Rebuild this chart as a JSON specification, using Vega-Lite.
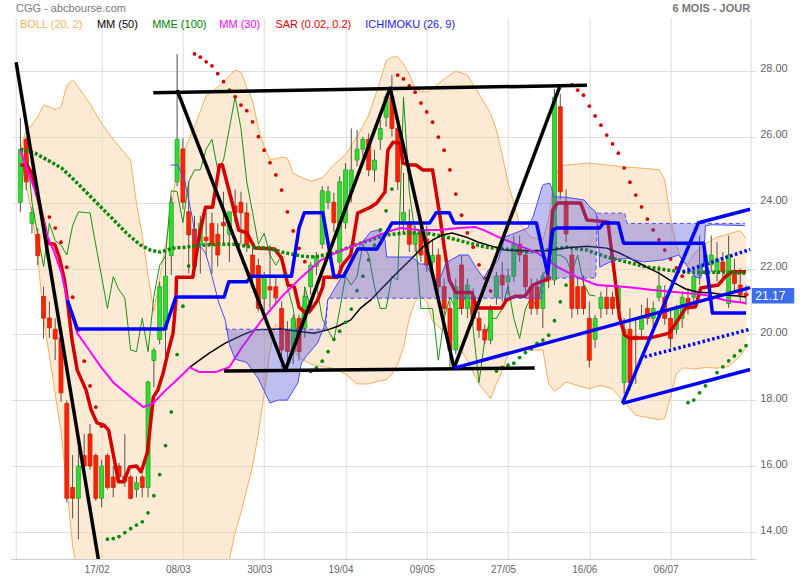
{
"$schema":"https://vega.github.io/schema/vega-lite/v6.json",
"width":745,"height":541,"autosize":"none",
"padding":{"left":10.7,"top":18,"right":44.3,"bottom":21},
"background":"#ffffff",
"config":{"view":{"stroke":null},"font":"Liberation Sans","axis":{"title":null}},
"datasets":{
"candles":[
{"i":0,"o":24.01,"h":26.58,"l":23.72,"c":25.61},{"i":1,"o":25.92,"h":26.0,"l":24.38,"c":24.63},{"i":2,"o":23.37,"h":23.87,"l":23.07,"c":23.7},{"i":3,"o":23.04,"h":23.22,"l":22.11,"c":22.39},{"i":4,"o":21.15,"h":21.45,"l":19.88,"c":20.49},{"i":5,"o":20.5,"h":21.0,"l":19.9,"c":20.2},{"i":6,"o":20.16,"h":20.49,"l":19.22,"c":19.86},{"i":7,"o":19.9,"h":20.0,"l":17.96,"c":18.23},{"i":8,"o":17.91,"h":18.0,"l":14.9,"c":15.03},{"i":9,"o":15.36,"h":16.34,"l":14.42,"c":15.03},
{"i":10,"o":15.03,"h":16.98,"l":13.79,"c":16.01},{"i":11,"o":16.33,"h":16.98,"l":15.9,"c":16.01},{"i":12,"o":16.98,"h":17.28,"l":15.9,"c":16.01},{"i":13,"o":16.33,"h":16.4,"l":14.95,"c":15.03},{"i":14,"o":15.03,"h":16.2,"l":14.76,"c":16.01},{"i":15,"o":16.33,"h":16.4,"l":15.3,"c":15.36},{"i":16,"o":15.68,"h":16.01,"l":15.06,"c":15.36},{"i":17,"o":16.01,"h":16.1,"l":15.5,"c":15.69},{"i":18,"o":15.7,"h":16.98,"l":15.38,"c":15.55},{"i":19,"o":15.68,"h":15.75,"l":15.0,"c":15.03},
{"i":20,"o":15.3,"h":15.7,"l":15.06,"c":15.5},{"i":21,"o":15.68,"h":15.75,"l":15.06,"c":15.36},{"i":22,"o":15.36,"h":18.6,"l":15.06,"c":18.56},{"i":23,"o":19.21,"h":19.6,"l":18.4,"c":19.52},{"i":24,"o":19.85,"h":21.6,"l":19.7,"c":21.45},{"i":25,"o":20.14,"h":22.46,"l":19.2,"c":21.77},{"i":26,"o":22.39,"h":24.18,"l":21.8,"c":24.01},{"i":27,"o":24.63,"h":28.51,"l":24.5,"c":25.92},{"i":28,"o":25.63,"h":25.95,"l":23.8,"c":24.01},{"i":29,"o":23.72,"h":24.63,"l":21.85,"c":23.02},
{"i":30,"o":23.2,"h":23.6,"l":21.9,"c":22.06},{"i":31,"o":22.71,"h":23.6,"l":21.85,"c":23.37},{"i":32,"o":22.95,"h":23.7,"l":22.4,"c":22.85},{"i":33,"o":23.37,"h":23.7,"l":21.85,"c":22.71},{"i":34,"o":23.04,"h":23.37,"l":22.06,"c":22.41},{"i":35,"o":23.4,"h":24.33,"l":22.76,"c":23.3},{"i":36,"o":23.04,"h":23.4,"l":22.2,"c":23.72},{"i":37,"o":23.9,"h":24.4,"l":23.4,"c":23.7},{"i":38,"o":24.01,"h":24.33,"l":22.76,"c":23.69},{"i":39,"o":23.69,"h":24.0,"l":22.5,"c":22.71},
{"i":40,"o":22.41,"h":22.8,"l":21.5,"c":21.75},{"i":41,"o":22.09,"h":22.3,"l":20.7,"c":20.79},{"i":42,"o":21.09,"h":21.9,"l":20.7,"c":21.75},{"i":43,"o":21.45,"h":22.71,"l":20.79,"c":21.35},{"i":44,"o":21.45,"h":21.75,"l":20.9,"c":21.11},{"i":45,"o":20.79,"h":21.0,"l":19.0,"c":19.53},{"i":46,"o":20.14,"h":20.4,"l":19.17,"c":19.48},{"i":47,"o":19.48,"h":20.6,"l":19.1,"c":20.49},{"i":48,"o":20.49,"h":20.6,"l":19.2,"c":19.48},{"i":49,"o":20.19,"h":21.3,"l":19.9,"c":21.15},
{"i":50,"o":21.45,"h":22.2,"l":21.2,"c":22.1},{"i":51,"o":22.06,"h":22.5,"l":21.8,"c":22.38},{"i":52,"o":22.74,"h":24.5,"l":22.6,"c":24.36},{"i":53,"o":24.01,"h":24.5,"l":23.8,"c":24.33},{"i":54,"o":24.01,"h":24.3,"l":23.1,"c":23.39},{"i":55,"o":22.2,"h":24.8,"l":22.0,"c":24.63},{"i":56,"o":23.39,"h":25.2,"l":23.2,"c":24.99},{"i":57,"o":24.33,"h":26.25,"l":24.0,"c":24.99},{"i":58,"o":25.29,"h":26.2,"l":25.1,"c":25.62},{"i":59,"o":25.62,"h":26.0,"l":25.4,"c":25.92},
{"i":60,"o":25.92,"h":26.1,"l":24.8,"c":24.99},{"i":61,"o":24.99,"h":25.6,"l":24.63,"c":25.29},{"i":62,"o":25.92,"h":26.5,"l":25.6,"c":26.25},{"i":63,"o":26.59,"h":27.3,"l":26.3,"c":27.21},{"i":64,"o":27.21,"h":27.87,"l":26.0,"c":26.25},{"i":65,"o":26.25,"h":26.4,"l":24.38,"c":24.63},{"i":66,"o":23.39,"h":24.9,"l":23.1,"c":23.7},{"i":67,"o":23.39,"h":23.8,"l":22.5,"c":22.74},{"i":68,"o":22.74,"h":23.3,"l":22.5,"c":23.07},{"i":69,"o":23.12,"h":23.3,"l":22.2,"c":22.41},
{"i":70,"o":22.9,"h":23.3,"l":21.9,"c":22.1},{"i":71,"o":22.2,"h":22.9,"l":21.8,"c":22.4},{"i":72,"o":22.41,"h":22.6,"l":21.3,"c":21.45},{"i":73,"o":21.45,"h":21.7,"l":20.6,"c":20.79},{"i":74,"o":20.79,"h":21.0,"l":19.02,"c":19.53},{"i":75,"o":19.53,"h":21.7,"l":19.4,"c":21.45},{"i":76,"o":22.11,"h":22.4,"l":20.6,"c":20.79},{"i":77,"o":20.79,"h":21.7,"l":20.5,"c":21.5},{"i":78,"o":21.15,"h":21.4,"l":20.3,"c":20.49},{"i":79,"o":20.49,"h":20.7,"l":19.9,"c":20.13},
{"i":80,"o":20.15,"h":20.3,"l":19.7,"c":19.83},{"i":81,"o":19.83,"h":20.9,"l":19.7,"c":20.74},{"i":82,"o":21.13,"h":21.9,"l":20.9,"c":21.77},{"i":83,"o":21.8,"h":22.2,"l":21.0,"c":21.5},{"i":84,"o":21.6,"h":22.0,"l":21.2,"c":21.77},{"i":85,"o":21.77,"h":23.0,"l":21.6,"c":22.74},{"i":86,"o":22.74,"h":23.0,"l":22.2,"c":22.41},{"i":87,"o":22.41,"h":22.6,"l":21.3,"c":21.45},{"i":88,"o":21.45,"h":21.7,"l":20.6,"c":20.79},{"i":89,"o":21.45,"h":21.7,"l":20.6,"c":20.79},
{"i":90,"o":20.79,"h":21.9,"l":20.2,"c":21.77},{"i":91,"o":21.77,"h":21.9,"l":21.4,"c":21.65},{"i":92,"o":21.65,"h":27.45,"l":21.5,"c":27.2},{"i":93,"o":26.91,"h":27.3,"l":24.1,"c":24.33},{"i":94,"o":24.03,"h":24.4,"l":22.8,"c":23.05},{"i":95,"o":22.41,"h":22.6,"l":20.5,"c":20.79},{"i":96,"o":21.45,"h":21.7,"l":20.6,"c":20.79},{"i":97,"o":21.45,"h":21.8,"l":20.6,"c":20.79},{"i":98,"o":20.49,"h":21.0,"l":19.0,"c":19.22},{"i":99,"o":19.85,"h":20.6,"l":19.6,"c":20.49},
{"i":100,"o":20.79,"h":21.3,"l":20.5,"c":21.13},{"i":101,"o":21.13,"h":21.5,"l":20.6,"c":20.79},{"i":102,"o":21.13,"h":21.3,"l":20.6,"c":20.79},{"i":103,"o":20.79,"h":21.5,"l":20.5,"c":21.4},{"i":104,"o":18.54,"h":20.5,"l":18.2,"c":20.16},{"i":105,"o":20.16,"h":20.8,"l":18.3,"c":18.54},{"i":106,"o":19.95,"h":20.5,"l":18.5,"c":19.85},{"i":107,"o":20.16,"h":20.9,"l":19.9,"c":20.49},{"i":108,"o":20.79,"h":21.1,"l":20.3,"c":20.49},{"i":109,"o":20.49,"h":21.0,"l":20.2,"c":20.79},
{"i":110,"o":21.13,"h":22.1,"l":21.0,"c":21.47},{"i":111,"o":21.13,"h":21.5,"l":20.3,"c":20.49},{"i":112,"o":20.49,"h":20.8,"l":19.6,"c":19.88},{"i":113,"o":20.16,"h":20.9,"l":20.0,"c":20.79},{"i":114,"o":20.49,"h":21.3,"l":20.2,"c":21.13},{"i":115,"o":21.1,"h":21.4,"l":20.6,"c":20.8},{"i":116,"o":21.13,"h":22.0,"l":20.9,"c":21.77},{"i":117,"o":21.8,"h":23.0,"l":21.5,"c":22.1},{"i":118,"o":22.11,"h":22.6,"l":21.8,"c":22.41},{"i":119,"o":22.11,"h":23.0,"l":21.9,"c":22.41},
{"i":120,"o":21.9,"h":22.8,"l":21.6,"c":22.3},{"i":121,"o":22.2,"h":22.5,"l":21.7,"c":21.9},{"i":122,"o":20.94,"h":23.0,"l":20.8,"c":22.41},{"i":123,"o":21.9,"h":22.3,"l":21.3,"c":21.55},{"i":124,"o":21.5,"h":22.0,"l":21.0,"c":21.2},{"i":125,"o":21.25,"h":21.5,"l":20.9,"c":21.17}
],
"chikou":[
{"i":0,"v":24.01},{"i":1,"v":25.92},{"i":2,"v":24.01},{"i":3,"v":23.02},{"i":4,"v":22.06},{"i":5,"v":23.37},{"i":6,"v":22.85},{"i":7,"v":22.71},{"i":8,"v":22.41},{"i":9,"v":23.3},{"i":10,"v":23.72},{"i":11,"v":23.7},{"i":12,"v":23.69},{"i":13,"v":22.71},{"i":14,"v":21.75},{"i":15,"v":20.79},{"i":16,"v":21.75},{"i":17,"v":21.35},{"i":18,"v":21.11},{"i":19,"v":19.53},{"i":20,"v":19.48},{"i":21,"v":20.49},{"i":22,"v":19.48},{"i":23,"v":21.15},{"i":24,"v":22.1},{"i":25,"v":22.38},{"i":26,"v":24.36},{"i":27,"v":24.33},{"i":28,"v":23.39},{"i":29,"v":24.63},{"i":30,"v":24.99},{"i":31,"v":24.99},{"i":32,"v":25.62},{"i":33,"v":25.92},{"i":34,"v":24.99},{"i":35,"v":25.29},{"i":36,"v":26.25},{"i":37,"v":27.21},{"i":38,"v":26.25},{"i":39,"v":24.63},{"i":40,"v":23.7},{"i":41,"v":22.74},{"i":42,"v":23.07},{"i":43,"v":22.41},{"i":44,"v":22.1},{"i":45,"v":22.4},{"i":46,"v":21.45},{"i":47,"v":20.79},{"i":48,"v":19.53},{"i":49,"v":21.45},{"i":50,"v":20.79},{"i":51,"v":21.5},{"i":52,"v":20.49},{"i":53,"v":20.13},{"i":54,"v":19.83},{"i":55,"v":20.74},{"i":56,"v":21.77},{"i":57,"v":21.5},{"i":58,"v":21.77},{"i":59,"v":22.74},{"i":60,"v":22.41},{"i":61,"v":21.45},{"i":62,"v":20.79},{"i":63,"v":20.79},{"i":64,"v":21.77},{"i":65,"v":21.65},{"i":66,"v":27.2},{"i":67,"v":24.33},{"i":68,"v":23.05},{"i":69,"v":20.79},{"i":70,"v":20.79},{"i":71,"v":20.79},{"i":72,"v":19.22},{"i":73,"v":20.49},{"i":74,"v":21.13},{"i":75,"v":20.79},{"i":76,"v":20.79},{"i":77,"v":21.4},{"i":78,"v":20.16},{"i":79,"v":18.54},{"i":80,"v":19.85},{"i":81,"v":20.49},{"i":82,"v":20.49},{"i":83,"v":20.79},{"i":84,"v":21.47},{"i":85,"v":20.49},{"i":86,"v":19.88},{"i":87,"v":20.79},{"i":88,"v":21.13},{"i":89,"v":20.8},{"i":90,"v":21.77},{"i":91,"v":22.1},{"i":92,"v":22.41},{"i":93,"v":22.41},{"i":94,"v":22.3},{"i":95,"v":21.9},{"i":96,"v":22.41},{"i":97,"v":21.55},{"i":98,"v":21.2},{"i":99,"v":21.17}
],
"boll":[
{"i":0,"up":25.6,"lo":25.6},{"i":1,"up":26.2,"lo":24.5},{"i":2,"up":26.35,"lo":23.68},{"i":3,"up":26.6,"lo":22.35},{"i":4,"up":26.95,"lo":20.5},{"i":5,"up":26.9,"lo":19.35},{"i":6,"up":26.82,"lo":18.2},{"i":7,"up":26.9,"lo":17.05},{"i":8,"up":27.55,"lo":15.4},{"i":9,"up":27.72,"lo":13.6},{"i":10,"up":27.5,"lo":12.6},{"i":12,"up":27.0,"lo":12.0},{"i":14,"up":26.4,"lo":11.8},{"i":16,"up":25.92,"lo":11.8},{"i":18,"up":25.5,"lo":11.9},{"i":19,"up":25.29,"lo":11.95},{"i":20,"up":23.99,"lo":12.0},{"i":21,"up":23.0,"lo":12.1},{"i":22,"up":21.8,"lo":12.2},{"i":23,"up":20.7,"lo":12.3},{"i":24,"up":21.7,"lo":12.4},{"i":25,"up":22.7,"lo":12.4},{"i":26,"up":23.8,"lo":12.3},{"i":27,"up":25.1,"lo":12.1},{"i":28,"up":25.5,"lo":12.0},{"i":30,"up":26.3,"lo":11.8},{"i":32,"up":27.25,"lo":11.9},{"i":34,"up":27.5,"lo":12.5},{"i":36,"up":27.85,"lo":13.19},{"i":37,"up":28.02,"lo":13.98},{"i":38,"up":27.95,"lo":14.6},{"i":39,"up":27.5,"lo":15.3},{"i":40,"up":27.1,"lo":16.0},{"i":41,"up":26.25,"lo":17.0},{"i":42,"up":25.7,"lo":18.2},{"i":43,"up":25.3,"lo":19.5},{"i":44,"up":25.33,"lo":20.3},{"i":45,"up":25.38,"lo":20.1},{"i":46,"up":25.35,"lo":19.9},{"i":47,"up":24.89,"lo":19.55},{"i":48,"up":24.8,"lo":19.3},{"i":50,"up":24.65,"lo":19.1},{"i":52,"up":24.75,"lo":19.03},{"i":54,"up":25.15,"lo":18.97},{"i":56,"up":25.45,"lo":18.8},{"i":58,"up":26.0,"lo":18.5},{"i":60,"up":26.65,"lo":18.5},{"i":62,"up":27.7,"lo":18.6},{"i":63,"up":28.3,"lo":18.62},{"i":64,"up":28.42,"lo":18.8},{"i":65,"up":28.42,"lo":19.1},{"i":66,"up":28.2,"lo":19.6},{"i":67,"up":27.9,"lo":20.5},{"i":68,"up":27.45,"lo":21.0},{"i":69,"up":27.38,"lo":21.16},{"i":70,"up":27.35,"lo":21.0},{"i":71,"up":27.45,"lo":20.4},{"i":73,"up":27.75,"lo":20.07},{"i":75,"up":27.99,"lo":19.8},{"i":77,"up":27.87,"lo":19.2},{"i":79,"up":27.3,"lo":18.5},{"i":81,"up":26.7,"lo":18.05},{"i":82,"up":26.2,"lo":18.5},{"i":83,"up":25.45,"lo":18.9},{"i":84,"up":24.6,"lo":19.38},{"i":86,"up":23.35,"lo":19.53},{"i":88,"up":22.95,"lo":19.53},{"i":90,"up":22.86,"lo":19.53},{"i":91,"up":23.5,"lo":18.5},{"i":92,"up":24.8,"lo":18.28},{"i":93,"up":25.1,"lo":18.4},{"i":94,"up":25.14,"lo":18.56},{"i":96,"up":25.17,"lo":18.45},{"i":98,"up":25.2,"lo":18.35},{"i":100,"up":25.16,"lo":18.46},{"i":102,"up":25.12,"lo":18.35},{"i":104,"up":25.08,"lo":17.95},{"i":106,"up":25.06,"lo":17.55},{"i":108,"up":25.03,"lo":17.48},{"i":110,"up":25.0,"lo":17.42},{"i":111,"up":24.7,"lo":17.45},{"i":112,"up":23.5,"lo":18.1},{"i":113,"up":22.7,"lo":18.8},{"i":114,"up":22.2,"lo":18.98},{"i":115,"up":22.15,"lo":18.98},{"i":116,"up":22.45,"lo":18.95},{"i":118,"up":22.75,"lo":19.0},{"i":120,"up":22.95,"lo":18.98},{"i":122,"up":23.05,"lo":19.03},{"i":124,"up":23.15,"lo":19.35},{"i":125,"up":22.9,"lo":19.6}
],
"mme":[
{"i":0,"v":25.62},{"i":2.5,"v":25.5},{"i":4.7,"v":25.29},{"i":7.1,"v":25.05},{"i":9.3,"v":24.68},{"i":11.5,"v":24.29},{"i":13.9,"v":23.86},{"i":16.1,"v":23.47},{"i":18.3,"v":23.07},{"i":20.7,"v":22.71},{"i":22.4,"v":22.56},{"i":24.1,"v":22.5},{"i":26.3,"v":22.62},{"i":28.5,"v":22.65},{"i":31.4,"v":22.71},{"i":34.3,"v":22.74},{"i":37,"v":22.74},{"i":39.9,"v":22.65},{"i":42.8,"v":22.62},{"i":45,"v":22.5},{"i":48.4,"v":22.38},{"i":50.6,"v":22.35},{"i":54,"v":22.47},{"i":58.6,"v":22.77},{"i":63.1,"v":23.02},{"i":66.5,"v":23.08},{"i":69.9,"v":23.08},{"i":73.3,"v":22.96},{"i":76.7,"v":22.8},{"i":80.1,"v":22.65},{"i":83.5,"v":22.59},{"i":87.4,"v":22.5},{"i":90.8,"v":22.56},{"i":94.2,"v":22.65},{"i":97.6,"v":22.56},{"i":101,"v":22.35},{"i":104.4,"v":22.2},{"i":107.8,"v":22.05},{"i":111.2,"v":21.96},{"i":114.6,"v":21.89},{"i":118,"v":21.89},{"i":121.4,"v":21.89},{"i":125,"v":21.86}
],
"mm50":[
{"i":29.2,"v":19.01},{"i":32.6,"v":19.44},{"i":35.3,"v":19.74},{"i":38.2,"v":19.98},{"i":40.4,"v":20.14},{"i":45,"v":20.17},{"i":48.4,"v":20.08},{"i":50.6,"v":20.04},{"i":52.9,"v":20.14},{"i":54.7,"v":20.25},{"i":56.9,"v":20.44},{"i":58.6,"v":20.8},{"i":60.3,"v":21.04},{"i":62.5,"v":21.44},{"i":64.8,"v":21.86},{"i":67.1,"v":22.25},{"i":69.3,"v":22.65},{"i":71,"v":22.86},{"i":72.7,"v":23.02},{"i":74.4,"v":23.08},{"i":76.7,"v":22.96},{"i":78.9,"v":22.8},{"i":81.2,"v":22.68},{"i":83.5,"v":22.56},{"i":87.4,"v":22.54},{"i":90.8,"v":22.55},{"i":94.2,"v":22.63},{"i":97.6,"v":22.68},{"i":101,"v":22.62},{"i":103.2,"v":22.47},{"i":105.6,"v":22.26},{"i":107.8,"v":22.05},{"i":110,"v":21.86},{"i":112.4,"v":21.59},{"i":114.6,"v":21.38},{"i":116.8,"v":21.28},{"i":119.2,"v":21.26},{"i":121.4,"v":21.2},{"i":123.6,"v":21.17},{"i":125,"v":21.14}
],
"mm30":[
{"i":0,"v":25.6},{"i":0.8,"v":25.2},{"i":2.5,"v":24.38},{"i":3.7,"v":23.68},{"i":4.7,"v":22.96},{"i":5.9,"v":22.47},{"i":7.1,"v":21.86},{"i":8.1,"v":21.04},{"i":9.8,"v":20.04},{"i":12.2,"v":19.44},{"i":13.9,"v":19.01},{"i":16.1,"v":18.53},{"i":19,"v":18.1},{"i":21.2,"v":17.8},{"i":22.9,"v":17.92},{"i":25.1,"v":18.32},{"i":27.5,"v":18.71},{"i":29.2,"v":19.01},{"i":30.8,"v":18.86},{"i":33.6,"v":18.86},{"i":36,"v":19.01},{"i":38.2,"v":19.62},{"i":41.6,"v":20.44},{"i":45,"v":21.14},{"i":48.4,"v":21.74},{"i":51.8,"v":22.26},{"i":54.6,"v":22.5},{"i":58.6,"v":22.77},{"i":63.1,"v":23.11},{"i":65.4,"v":23.23},{"i":68.8,"v":23.17},{"i":72.2,"v":23.17},{"i":75.6,"v":23.23},{"i":78.4,"v":23.26},{"i":80,"v":23.15},{"i":82.3,"v":22.96},{"i":85.7,"v":22.71},{"i":89.1,"v":22.47},{"i":92.5,"v":22.05},{"i":95.9,"v":21.74},{"i":99.3,"v":21.5},{"i":104.4,"v":21.44},{"i":109,"v":21.35},{"i":114.6,"v":21.26},{"i":118,"v":21.2},{"i":121.4,"v":21.04},{"i":125,"v":20.95}
],
"tenkan":[
{"i":0,"v":25.14},{"i":1.1,"v":25.14},{"i":2,"v":24.89},{"i":3,"v":24.17},{"i":4.2,"v":23.26},{"i":4.7,"v":22.77},{"i":5.9,"v":22.74},{"i":6.7,"v":22.35},{"i":7.6,"v":21.65},{"i":8.1,"v":21.04},{"i":8.9,"v":19.83},{"i":9.8,"v":18.92},{"i":11.3,"v":18.32},{"i":12.2,"v":17.71},{"i":13.2,"v":17.32},{"i":14.4,"v":17.25},{"i":15.2,"v":17.1},{"i":16.1,"v":16.28},{"i":16.9,"v":15.53},{"i":17.8,"v":15.53},{"i":18.8,"v":15.98},{"i":20,"v":16.01},{"i":20.8,"v":15.83},{"i":21.9,"v":16.43},{"i":22.9,"v":18.1},{"i":23.7,"v":18.32},{"i":24.6,"v":18.83},{"i":25.4,"v":19.44},{"i":26.3,"v":20.04},{"i":26.8,"v":21.04},{"i":26.9,"v":21.74},{"i":29.7,"v":21.74},{"i":30.9,"v":23.07},{"i":31.9,"v":23.86},{"i":33.1,"v":23.86},{"i":34.3,"v":25.14},{"i":34.8,"v":25.14},{"i":36.5,"v":23.99},{"i":37.6,"v":23.17},{"i":39,"v":23.08},{"i":40.4,"v":22.62},{"i":43.8,"v":22.59},{"i":45,"v":22.32},{"i":46.1,"v":21.5},{"i":47.2,"v":21.44},{"i":48,"v":20.83},{"i":48.9,"v":20.68},{"i":49.7,"v":20.68},{"i":50.4,"v":20.83},{"i":51.2,"v":21.04},{"i":52.1,"v":21.44},{"i":52.3,"v":21.74},{"i":54.7,"v":21.74},{"i":55.5,"v":22.11},{"i":56.9,"v":22.41},{"i":58.1,"v":23.68},{"i":60.3,"v":23.86},{"i":61.4,"v":23.99},{"i":62.8,"v":24.32},{"i":63.3,"v":25.59},{"i":64.2,"v":25.83},{"i":65.4,"v":25.8},{"i":65.9,"v":25.2},{"i":67.1,"v":25.14},{"i":68.2,"v":25.14},{"i":69.3,"v":24.99},{"i":71,"v":24.99},{"i":72.2,"v":23.68},{"i":73,"v":22.65},{"i":73.9,"v":21.65},{"i":75,"v":21.27},{"i":77.8,"v":21.27},{"i":78.6,"v":20.8},{"i":82.9,"v":20.8},{"i":83.7,"v":21.04},{"i":85.2,"v":21.16},{"i":86.9,"v":21.16},{"i":88.3,"v":21.5},{"i":90.3,"v":21.65},{"i":90.8,"v":21.65},{"i":91.7,"v":23.77},{"i":92.5,"v":23.99},{"i":96.5,"v":23.99},{"i":97.6,"v":23.47},{"i":101.2,"v":23.41},{"i":102.4,"v":21.74},{"i":103.2,"v":20.53},{"i":104.1,"v":19.98},{"i":104.9,"v":19.89},{"i":108.3,"v":19.89},{"i":111.8,"v":20.04},{"i":114.6,"v":20.8},{"i":116.3,"v":20.84},{"i":117.2,"v":21.41},{"i":120.2,"v":21.5},{"i":121.4,"v":21.75},{"i":122.6,"v":21.9},{"i":125,"v":21.9}
],
"kijun":[
{"i":8.1,"v":21.04},{"i":9.8,"v":20.17},{"i":24.9,"v":20.17},{"i":26.8,"v":21.14},{"i":35.1,"v":21.14},{"i":35.9,"v":21.6},{"i":39,"v":21.6},{"i":39.9,"v":21.77},{"i":46.7,"v":21.77},{"i":48,"v":23.23},{"i":48.9,"v":23.69},{"i":52.1,"v":23.69},{"i":54,"v":21.77},{"i":55.7,"v":21.77},{"i":58.1,"v":22.59},{"i":61.4,"v":22.59},{"i":64,"v":23.38},{"i":70.5,"v":23.38},{"i":71.6,"v":23.69},{"i":73.9,"v":23.69},{"i":74.7,"v":23.38},{"i":88.9,"v":23.38},{"i":90.8,"v":21.86},{"i":91.7,"v":23.17},{"i":92.5,"v":23.23},{"i":99.8,"v":23.23},{"i":100.4,"v":23.38},{"i":103,"v":23.38},{"i":103.9,"v":22.77},{"i":117.7,"v":22.77},{"i":119.2,"v":20.65},{"i":125,"v":20.65}
],
"spanA0":[
{"i":25.9,"v":25.14},{"i":27.1,"v":25.14},{"i":28.3,"v":24.68},{"i":29.7,"v":23.47},{"i":30.2,"v":22.86},{"i":31.9,"v":22.47},{"i":32.6,"v":22.04},{"i":34.2,"v":20.95},{"i":35.3,"v":20.44}
],
"cloud":[
{"i":35.3,"a":20.44,"b":20.16},{"i":36,"a":19.7,"b":20.16},{"i":37,"a":19.25,"b":20.16},{"i":39,"a":19.15,"b":20.16},{"i":41,"a":18.65,"b":20.16},{"i":43,"a":17.92,"b":20.16},{"i":44.4,"a":18.01,"b":20.16},{"i":46,"a":18.01,"b":20.16},{"i":47.8,"a":18.53,"b":20.16},{"i":48.4,"a":19.13,"b":20.16},{"i":49.2,"a":19.33,"b":20.16},{"i":51.2,"a":19.74,"b":20.16},{"i":52.3,"a":20.23,"b":20.16},{"i":52.6,"a":20.5,"b":20.16},{"i":52.95,"a":21.04,"b":21.1},{"i":55.7,"a":21.86,"b":21.1},{"i":58.1,"a":22.62,"b":21.1},{"i":60.3,"a":23.11,"b":21.1},{"i":61.6,"a":23.17,"b":21.1},{"i":62.8,"a":22.86,"b":21.1},{"i":63.1,"a":22.35,"b":21.1},{"i":67.6,"a":22.35,"b":21.1},{"i":68.8,"a":22.14,"b":21.1},{"i":69.9,"a":22.14,"b":21.1},{"i":71.3,"a":21.65,"b":21.1},{"i":72.2,"a":21.65,"b":21.1},{"i":73.3,"a":22.17,"b":21.1},{"i":75.6,"a":22.41,"b":21.1},{"i":77.2,"a":22.41,"b":21.1},{"i":78.4,"a":22.05,"b":21.1},{"i":79.8,"a":21.71,"b":21.1},{"i":80.6,"a":21.95,"b":21.1},{"i":82.3,"a":22.26,"b":21.1},{"i":83.5,"a":22.96,"b":21.1},{"i":85.7,"a":23.11,"b":21.1},{"i":87.4,"a":23.23,"b":21.1},{"i":88.3,"a":23.56,"b":21.1},{"i":89.1,"a":24.02,"b":21.1},{"i":89.9,"a":24.5,"b":21.1},{"i":90.1,"a":24.55,"b":21.71},{"i":91.2,"a":24.59,"b":21.71},{"i":92,"a":24.17,"b":21.71},{"i":93.7,"a":24.17,"b":21.71},{"i":97.1,"a":24.08,"b":21.71},{"i":98.1,"a":23.87,"b":21.71},{"i":99.1,"a":23.72,"b":21.71},{"i":99.4,"a":23.5,"b":23.68},{"i":99.8,"a":22.04,"b":23.68},{"i":102.2,"a":22.26,"b":23.68},{"i":104.1,"a":22.3,"b":23.68},{"i":104.5,"a":22.31,"b":23.37},{"i":107.3,"a":22.2,"b":23.37},{"i":110.7,"a":22.26,"b":23.37},{"i":113.4,"a":22.41,"b":23.37},{"i":116.3,"a":21.74,"b":23.37},{"i":117.2,"a":21.71,"b":23.37},{"i":117.7,"a":22.26,"b":23.37},{"i":118,"a":23.3,"b":23.37},{"i":119.2,"a":23.33,"b":23.37},{"i":124.8,"a":23.3,"b":23.37}
],
"sar":[
{"i":5,"v":23.56,"t":"h"},{"i":6,"v":23.23,"t":"h"},{"i":7,"v":22.8,"t":"h"},{"i":8,"v":22.04,"t":"h"},{"i":9,"v":21.13,"t":"h"},{"i":10,"v":20.14,"t":"h"},{"i":11,"v":19.19,"t":"h"},{"i":12,"v":18.44,"t":"h"},{"i":13,"v":17.8,"t":"h"},{"i":14,"v":17.22,"t":"h"},
{"i":15,"v":13.79,"t":"b"},{"i":16,"v":13.81,"t":"b"},{"i":17,"v":13.87,"t":"b"},{"i":18,"v":13.99,"t":"b"},{"i":19,"v":14.11,"t":"b"},{"i":20,"v":14.22,"t":"b"},{"i":21,"v":14.32,"t":"b"},{"i":22,"v":14.59,"t":"b"},{"i":23,"v":15.11,"t":"b"},{"i":24,"v":15.75,"t":"b"},{"i":25,"v":16.63,"t":"b"},{"i":26,"v":17.65,"t":"b"},{"i":27,"v":19.39,"t":"b"},{"i":28,"v":20.86,"t":"b"},{"i":29,"v":22.08,"t":"b"},
{"i":30,"v":28.51,"t":"h"},{"i":31,"v":28.41,"t":"h"},{"i":32,"v":28.27,"t":"h"},{"i":33,"v":28.15,"t":"h"},{"i":34,"v":27.91,"t":"h"},{"i":35,"v":27.67,"t":"h"},{"i":36,"v":27.41,"t":"h"},{"i":37,"v":27.21,"t":"h"},{"i":38,"v":26.96,"t":"h"},{"i":39,"v":26.79,"t":"h"},{"i":40,"v":26.45,"t":"h"},{"i":41,"v":26.0,"t":"h"},{"i":42,"v":25.59,"t":"h"},{"i":43,"v":25.21,"t":"h"},{"i":44,"v":24.84,"t":"h"},{"i":45,"v":24.38,"t":"h"},{"i":46,"v":23.72,"t":"h"},{"i":47,"v":23.14,"t":"h"},{"i":48,"v":22.61,"t":"h"},{"i":49,"v":22.21,"t":"h"},
{"i":50,"v":18.88,"t":"b"},{"i":51,"v":18.99,"t":"b"},{"i":52,"v":19.19,"t":"b"},{"i":53,"v":19.48,"t":"b"},{"i":54,"v":19.85,"t":"b"},{"i":55,"v":20.1,"t":"b"},{"i":56,"v":20.37,"t":"b"},{"i":57,"v":20.77,"t":"b"},{"i":58,"v":21.33,"t":"b"},{"i":59,"v":21.77,"t":"b"},{"i":60,"v":22.26,"t":"b"},{"i":61,"v":22.71,"t":"b"},{"i":62,"v":23.17,"t":"b"},{"i":63,"v":23.75,"t":"b"},{"i":64,"v":24.41,"t":"b"},
{"i":65,"v":27.87,"t":"h"},{"i":66,"v":27.75,"t":"h"},{"i":67,"v":27.54,"t":"h"},{"i":68,"v":27.35,"t":"h"},{"i":69,"v":27.02,"t":"h"},{"i":70,"v":26.75,"t":"h"},{"i":71,"v":26.44,"t":"h"},{"i":72,"v":25.99,"t":"h"},{"i":73,"v":25.59,"t":"h"},{"i":74,"v":24.99,"t":"h"},{"i":75,"v":24.26,"t":"h"},{"i":76,"v":23.62,"t":"h"},{"i":77,"v":23.08,"t":"h"},{"i":78,"v":22.65,"t":"h"},{"i":79,"v":22.11,"t":"h"},{"i":80,"v":21.71,"t":"h"},{"i":81,"v":21.32,"t":"h"},
{"i":82,"v":18.89,"t":"b"},{"i":83,"v":19.0,"t":"b"},{"i":84,"v":19.07,"t":"b"},{"i":85,"v":19.13,"t":"b"},{"i":86,"v":19.3,"t":"b"},{"i":87,"v":19.45,"t":"b"},{"i":88,"v":19.56,"t":"b"},{"i":89,"v":19.73,"t":"b"},{"i":90,"v":19.83,"t":"b"},{"i":91,"v":19.98,"t":"b"},{"i":92,"v":20.42,"t":"b"},{"i":93,"v":20.99,"t":"b"},{"i":94,"v":21.5,"t":"b"},
{"i":95,"v":27.57,"t":"h"},{"i":96,"v":27.41,"t":"h"},{"i":97,"v":27.26,"t":"h"},{"i":98,"v":26.93,"t":"h"},{"i":99,"v":26.63,"t":"h"},{"i":100,"v":26.35,"t":"h"},{"i":101,"v":26.05,"t":"h"},{"i":102,"v":25.78,"t":"h"},{"i":103,"v":25.5,"t":"h"},{"i":104,"v":25.05,"t":"h"},{"i":105,"v":24.62,"t":"h"},{"i":106,"v":24.23,"t":"h"},{"i":107,"v":23.87,"t":"h"},{"i":108,"v":23.5,"t":"h"},{"i":109,"v":23.17,"t":"h"},{"i":110,"v":22.87,"t":"h"},{"i":111,"v":22.56,"t":"h"},{"i":112,"v":22.29,"t":"h"},{"i":113,"v":22.02,"t":"h"},{"i":114,"v":21.77,"t":"h"},
{"i":115,"v":17.93,"t":"b"},{"i":116,"v":18.01,"t":"b"},{"i":117,"v":18.23,"t":"b"},{"i":118,"v":18.44,"t":"b"},{"i":119,"v":18.62,"t":"b"},{"i":120,"v":18.84,"t":"b"},{"i":121,"v":19.02,"t":"b"},{"i":122,"v":19.2,"t":"b"},{"i":123,"v":19.35,"t":"b"},{"i":124,"v":19.51,"t":"b"},{"i":125,"v":19.66,"t":"b"}
],
"traits":[
{"g":"k1","k":"n","i":-0.73,"v":28.26},{"g":"k1","k":"n","i":13.7,"v":12.9},
{"g":"k2","k":"n","i":22.9,"v":27.33},{"g":"k2","k":"n","i":97.6,"v":27.56},
{"g":"k3","k":"n","i":35.1,"v":18.89},{"g":"k3","k":"n","i":88.6,"v":18.98},
{"g":"w","k":"n","i":27.0,"v":27.41},{"g":"w","k":"n","i":45.65,"v":18.92},{"g":"w","k":"n","i":63.7,"v":27.47},{"g":"w","k":"n","i":74.7,"v":18.98},{"g":"w","k":"n","i":92.9,"v":27.51},
{"g":"b1","k":"b","i":74.7,"v":18.98},{"g":"b1","k":"b","i":125.7,"v":21.42},
{"g":"b2","k":"b","i":103.7,"v":17.91},{"g":"b2","k":"b","i":125.7,"v":18.94},
{"g":"b3","k":"b","i":103.7,"v":17.91},{"g":"b3","k":"b","i":116.8,"v":23.39},{"g":"b3","k":"b","i":125.7,"v":23.8},
{"g":"d1","k":"p","i":107.5,"v":19.32},{"g":"d1","k":"p","i":125.7,"v":20.16},
{"g":"d2","k":"p","i":114.1,"v":21.9},{"g":"d2","k":"p","i":125.7,"v":22.58}
]
},
"layer":[
{"encoding":{"x":{"field":"i","type":"quantitative","scale":{"domain":[-0.8,125.8],"nice":false,"zero":false},
 "axis":{"values":[-0.8,14,28,42,56,70,84,98,112,125.8],
 "labelExpr":"datum.value==14?'17/02':datum.value==28?'08/03':datum.value==42?'30/03':datum.value==56?'19/04':datum.value==70?'09/05':datum.value==84?'27/05':datum.value==98?'16/06':datum.value==112?'06/07':''",
 "grid":true,"gridColor":"#dddddd","gridWidth":1,"ticks":false,"domain":true,"domainColor":"#cccccc","labelColor":"#666666","labelFontSize":10,"labelFont":"Liberation Sans","labelPadding":5,"labelOffset":-5,"labelFlush":false,"labelOverlap":false,"title":null}}},
 "layer":[
{"data":{"name":"boll"},"mark":{"type":"area","color":"#fbd5a9","opacity":0.5,"clip":true},
 "encoding":{"y":{"field":"up","type":"quantitative","scale":{"domain":[13.19,29.6],"nice":false,"zero":false},
   "axis":{"orient":"right","values":[14,16,18,20,22,24,26,28],"format":".2f","grid":true,"gridColor":"#dddddd","ticks":false,"domain":false,"labelColor":"#666666","labelFontSize":11,"labelFont":"Liberation Sans","labelPadding":4,"labelOffset":-2,"title":null}},
  "y2":{"field":"lo"}}},
{"data":{"name":"boll"},"mark":{"type":"line","color":"#f6ad5c","strokeWidth":1,"clip":true},
 "encoding":{"y":{"field":"up","type":"quantitative"}}},
{"data":{"name":"boll"},"mark":{"type":"line","color":"#f6ad5c","strokeWidth":1,"clip":true},
 "encoding":{"y":{"field":"lo","type":"quantitative"}}},
{"data":{"name":"chikou"},"mark":{"type":"line","color":"#149414","strokeWidth":1,"clip":true},
 "encoding":{"y":{"field":"v","type":"quantitative"}}},
{"data":{"name":"candles"},"mark":{"type":"rule","color":"#5a5048","strokeWidth":1,"clip":true},
 "encoding":{"y":{"field":"l","type":"quantitative"},"y2":{"field":"h"}}},
{"data":{"name":"candles"},"mark":{"type":"bar","size":4,"strokeWidth":0.7,"clip":true},
 "encoding":{"y":{"field":"o","type":"quantitative"},"y2":{"field":"c"},
  "fill":{"condition":{"test":"datum.c >= datum.o","value":"#2fdc2f"},"value":"#ff2200"},
  "stroke":{"condition":{"test":"datum.c >= datum.o","value":"#1c9a1c"},"value":"#c41a00"}}},
{"data":{"name":"tenkan"},"mark":{"type":"line","color":"#d40000","strokeWidth":3.5,"strokeJoin":"round","clip":true},
 "encoding":{"y":{"field":"v","type":"quantitative"}}},
{"data":{"name":"mme"},"mark":{"type":"line","color":"#0a880a","strokeWidth":3.5,"strokeDash":[3,2],"clip":true},
 "encoding":{"y":{"field":"v","type":"quantitative"}}},
{"data":{"name":"mm50"},"mark":{"type":"line","color":"#000000","strokeWidth":1.5,"clip":true},
 "encoding":{"y":{"field":"v","type":"quantitative"}}},
{"data":{"name":"mm30"},"mark":{"type":"line","color":"#ff00ff","strokeWidth":2,"clip":true},
 "encoding":{"y":{"field":"v","type":"quantitative"}}},
{"data":{"name":"sar"},"mark":{"type":"circle","size":14,"opacity":1,"clip":true},
 "encoding":{"y":{"field":"v","type":"quantitative"},
  "color":{"condition":{"test":"datum.t == 'h'","value":"#d40000"},"value":"#0a880a"}}},
{"data":{"name":"cloud"},"mark":{"type":"area","color":"#5555dd","opacity":0.38,"clip":true},
 "encoding":{"y":{"field":"a","type":"quantitative"},"y2":{"field":"b"}}},
{"data":{"name":"spanA0"},"mark":{"type":"line","color":"#4a4aff","strokeWidth":1,"clip":true},
 "encoding":{"y":{"field":"v","type":"quantitative"}}},
{"data":{"name":"cloud"},"mark":{"type":"line","color":"#4a4aff","strokeWidth":1,"clip":true},
 "encoding":{"y":{"field":"a","type":"quantitative"}}},
{"data":{"name":"cloud"},"mark":{"type":"line","color":"#4a4aff","strokeWidth":1,"strokeDash":[4,3],"clip":true},
 "encoding":{"y":{"field":"b","type":"quantitative"}}},
{"data":{"name":"kijun"},"mark":{"type":"line","color":"#0000ff","strokeWidth":3.5,"strokeJoin":"round","clip":true},
 "encoding":{"y":{"field":"v","type":"quantitative"}}},
{"data":{"name":"traits"},"transform":[{"filter":"datum.k == 'n'"}],"mark":{"type":"line","color":"#000000","strokeWidth":3.5,"strokeJoin":"round","clip":true},
 "encoding":{"y":{"field":"v","type":"quantitative"},"detail":{"field":"g"}}},
{"data":{"name":"traits"},"transform":[{"filter":"datum.k == 'b'"}],"mark":{"type":"line","color":"#0000ff","strokeWidth":3.5,"strokeJoin":"round","clip":true},
 "encoding":{"y":{"field":"v","type":"quantitative"},"detail":{"field":"g"}}},
{"data":{"name":"traits"},"transform":[{"filter":"datum.k == 'p'"}],"mark":{"type":"line","color":"#0000ff","strokeWidth":3.5,"strokeDash":[2.5,2.5],"clip":true},
 "encoding":{"y":{"field":"v","type":"quantitative"},"detail":{"field":"g"}}}
 ]},
{"layer":[
{"data":{"values":[{}]},"mark":{"type":"rect","color":"#3b6cf0","clip":false},
 "encoding":{"x":{"datum":126.0,"type":"quantitative"},"x2":{"datum":133.3},"y":{"datum":21.41,"type":"quantitative"},"y2":{"datum":20.94}}},
{"data":{"name":"candles"},"transform":[{"filter":"datum.i == 125"}],"mark":{"type":"text","align":"left","baseline":"middle","color":"#ffffff","fontSize":12,"font":"Liberation Sans","clip":false},
 "encoding":{"x":{"datum":126.6,"type":"quantitative"},"y":{"field":"c","type":"quantitative"},"text":{"field":"c","format":".2f"}}},
{"data":{"values":[{}]},"mark":{"type":"text","text":"CGG - abcbourse.com","align":"left","baseline":"middle","fontSize":11,"font":"Liberation Sans","color":"#7a7a7a","clip":false},
 "encoding":{"x":{"datum":-0.75,"type":"quantitative"},"y":{"datum":29.86,"type":"quantitative"}}},
{"data":{"values":[{}]},"mark":{"type":"text","text":"6 MOIS - JOUR","align":"right","baseline":"middle","fontWeight":"bold","fontSize":11,"font":"Liberation Sans","color":"#777777","clip":false},
 "encoding":{"x":{"datum":125.7,"type":"quantitative"},"y":{"datum":29.86,"type":"quantitative"}}},
{"data":{"values":[{}]},"mark":{"type":"text","text":"BOLL (20, 2)","align":"left","baseline":"middle","fontSize":11,"font":"Liberation Sans","color":"#fbb05c"},
 "encoding":{"x":{"datum":-0.07,"type":"quantitative"},"y":{"datum":29.39,"type":"quantitative"}}},
{"data":{"values":[{}]},"mark":{"type":"text","text":"MM (50)","align":"left","baseline":"middle","fontSize":11,"font":"Liberation Sans","color":"#000000"},
 "encoding":{"x":{"datum":13.19,"type":"quantitative"},"y":{"datum":29.39,"type":"quantitative"}}},
{"data":{"values":[{}]},"mark":{"type":"text","text":"MME (100)","align":"left","baseline":"middle","fontSize":11,"font":"Liberation Sans","color":"#008000"},
 "encoding":{"x":{"datum":22.7,"type":"quantitative"},"y":{"datum":29.39,"type":"quantitative"}}},
{"data":{"values":[{}]},"mark":{"type":"text","text":"MM (30)","align":"left","baseline":"middle","fontSize":11,"font":"Liberation Sans","color":"#ff00ff"},
 "encoding":{"x":{"datum":34.26,"type":"quantitative"},"y":{"datum":29.39,"type":"quantitative"}}},
{"data":{"values":[{}]},"mark":{"type":"text","text":"SAR (0.02, 0.2)","align":"left","baseline":"middle","fontSize":11,"font":"Liberation Sans","color":"#dd0000"},
 "encoding":{"x":{"datum":43.94,"type":"quantitative"},"y":{"datum":29.39,"type":"quantitative"}}},
{"data":{"values":[{}]},"mark":{"type":"text","text":"ICHIMOKU (26, 9)","align":"left","baseline":"middle","fontSize":11,"font":"Liberation Sans","color":"#2020ee"},
 "encoding":{"x":{"datum":59.41,"type":"quantitative"},"y":{"datum":29.39,"type":"quantitative"}}}
]}
]
}
